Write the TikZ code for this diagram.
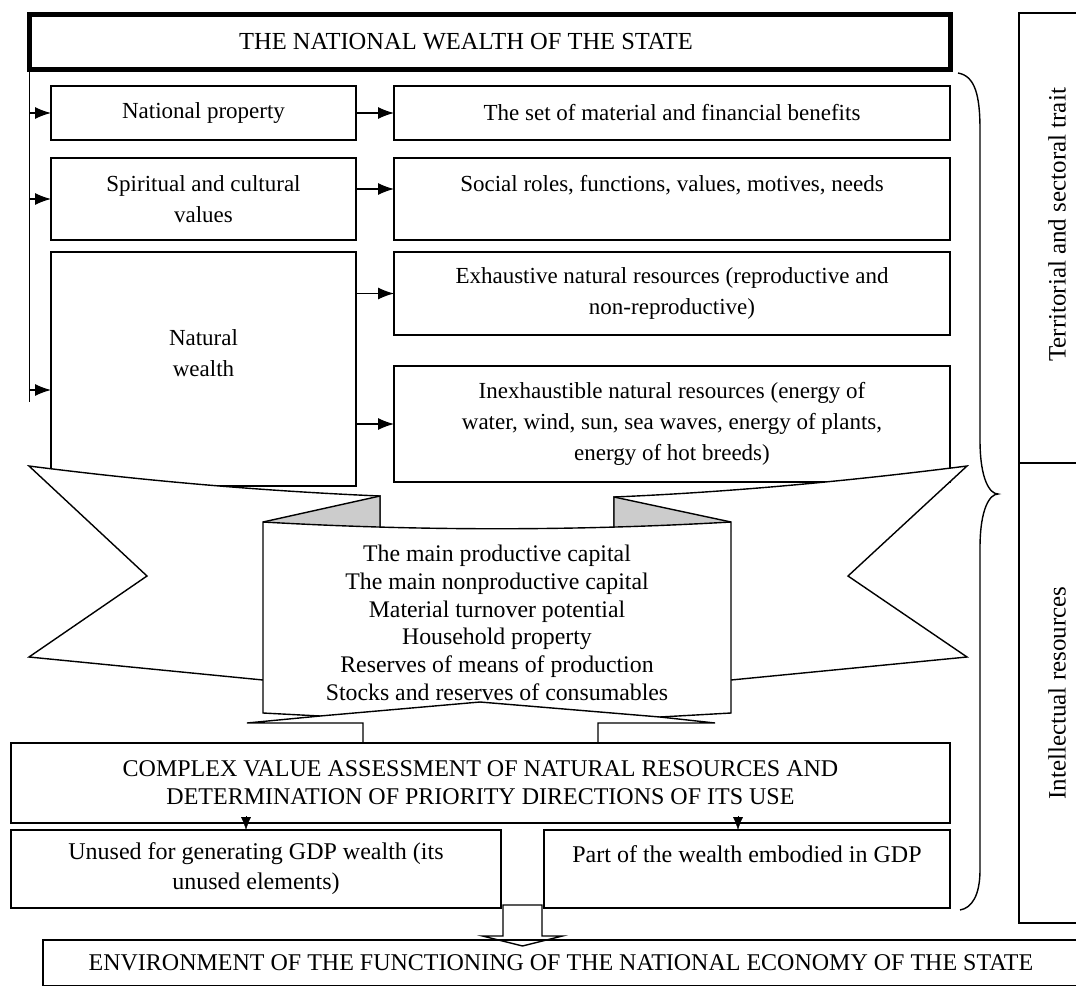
\documentclass[tikz,border=0pt]{standalone}
\usepackage{fontspec}
\setmainfont{Liberation Serif}
\usetikzlibrary{arrows.meta, calc, positioning}

\begin{document}
\begin{tikzpicture}[x=1pt, y=-1pt, >=Latex, font=\fontsize{23}{31}\selectfont]
	\tikzstyle{box} = [draw=black, rectangle, line width=1.4pt, align=center, inner sep=0pt, outer sep=0pt]
	\tikzstyle{lowbox} = [box, font=\fontsize{24}{30}\selectfont]
	\tikzstyle{titlebox} = [draw=black, rectangle, line width=5pt, inner sep=0pt, outer sep=0pt]
	\tikzstyle{sidebox} = [draw=black, rectangle, line width=1.4pt, inner sep=0pt, outer sep=0pt, rotate=90, font=\fontsize{25}{30}\selectfont]
	\tikzstyle{arrow} = [line width=1.2pt, -{Latex[length=16pt, width=12pt]}]
	\tikzstyle{downtip} = [-{Latex[length=13pt, width=10pt]}]
	\tikzstyle{ribbon} = [draw=black, fill=white, line width=1.4pt]
	\tikzstyle{fold} = [fill=black!20]

	\useasboundingbox (0,0) rectangle (1076,985);
	\clip (0,0) rectangle (1076,985);

	% upper part
	\node[titlebox, minimum width=921, minimum height=55, label={[xshift=-24pt, font=\fontsize{24.5}{29}\selectfont]center:THE NATIONAL WEALTH OF THE STATE}] at (490,42) (title) {};

	\node[box, minimum width=305, minimum height=54]	at (203.5,113)	(natprop)	{National property};
	\node[box, minimum width=556, minimum height=54]	at (672,113)	(benefit)	{The set of material and financial benefits};
	\node[box, minimum width=305, minimum height=82]	at (203.5,199)	(spirit)	{Spiritual and cultural\\values};
	\node[box, minimum width=556, minimum height=82]	at (672,199)	(social)	{Social roles, functions, values, motives, needs\\\mbox{}};
	\node[box, minimum width=305, minimum height=234]	at (203.5,369)	(natural)	{Natural\\wealth\\\mbox{}};
	\node[box, minimum width=556, minimum height=83]	at (672,293.5)	(exhaust)	{Exhaustive natural resources (reproductive and\\non-reproductive)};
	\node[box, minimum width=556, minimum height=116]	at (672,424)	(inexhaust)	{Inexhaustible natural resources (energy of\\water, wind, sun, sea waves, energy of plants,\\energy of hot breeds)};

	\coordinate (busend) at (29.5,402);
	\coordinate (natin) at ($(natural.west)+(0,21)$);
	\draw[line width=1.2pt] (title.south west) -- (busend);
	\draw[arrow] (busend |- natprop.west) -- (natprop.west);
	\draw[arrow] (busend |- spirit.west) -- (spirit.west);
	\draw[arrow] (busend |- natin) -- (natin);

	\draw[arrow] (natprop) -- (benefit);
	\draw[arrow] ($(spirit.east)+(0,-10)$) -- ($(social.west)+(0,-10)$);
	\draw[arrow] (natural.east |- exhaust.west) -- (exhaust.west);
	\draw[arrow] (natural.east |- inexhaust.west) -- (inexhaust.west);

	% ribbon
	\filldraw[ribbon] (29,466) .. controls (146,481) and (263,491) .. (380,496) -- (380,600) -- (263,680) -- (29,657) -- (147,576) -- cycle;
	\filldraw[ribbon] (967,466) .. controls (849,481) and (732,492) .. (614,497) -- (614,600) -- (731,680) -- (967,657) -- (848,576) -- cycle;
	\fill[fold] (380,496) -- (263,522) -- (263,532) -- (380,534) -- cycle;
	\fill[fold] (614,497) -- (731,522) -- (731,532) -- (614,534) -- cycle;
	\draw[ribbon, fill=none] (263,522) -- (380,496) -- (380,530);
	\draw[ribbon, fill=none] (731,522) -- (614,497) -- (614,530);
	\filldraw[ribbon] (263,522) .. controls (419,531) and (575,531) .. (731,522) -- (731,713) -- (660,717) -- (480,702) -- (320,716) -- (263,713) -- cycle;
	\draw[ribbon, fill=none] (320,716) -- (247,723) -- (363,723) -- (363,743);
	\draw[ribbon, fill=none] (660,717) -- (715,723) -- (598,723) -- (598,743);
	\node[align=center, font=\fontsize{23.8}{27.7}\selectfont] at (497,623) (capital) {The main productive capital\\The main nonproductive capital\\Material turnover potential\\Household property\\Reserves of means of production\\Stocks and reserves of consumables};

	% lower part
	\node[lowbox, minimum width=939, minimum height=80, font=\fontsize{24}{28}\selectfont]	at (480.5,783)	(assess)	{COMPLEX VALUE ASSESSMENT OF NATURAL RESOURCES AND\\DETERMINATION OF PRIORITY DIRECTIONS OF ITS USE};
	\node[lowbox, minimum width=490, minimum height=78]	at (256,869)	(unused)	{Unused for generating GDP wealth (its\\unused elements)};
	\node[lowbox, minimum width=406, minimum height=78]	at (747,869)	(gdp)		{Part of the wealth embodied in GDP\\\mbox{}};

	\draw[downtip] ($(unused.north)+(-10,-14)$) -- ($(unused.north)+(-10,0)$);
	\draw[downtip] ($(gdp.north)+(-9,-14)$) -- ($(gdp.north)+(-9,0)$);

	\coordinate (flow) at ($(unused.south east)!0.5!(gdp.south west)$);
	\draw[line width=1.4pt, fill=white, shift={(flow)}] (-19.5,-3) -- (19.5,-3) -- (19.5,28) -- (40,28) -- (0,38) -- (-40,28) -- (-19.5,28) -- cycle;

	\node[lowbox, minimum width=1036, minimum height=46]	at (561,963)	(environ)	{ENVIRONMENT OF THE FUNCTIONING OF THE NATIONAL ECONOMY OF THE STATE};

	% brace and side column
	\draw[line width=1.4pt] (958,73) .. controls (975,76) and (980,95) .. (980,130) -- (980,440) .. controls (980,480) and (990,494) .. (998,494) .. controls (990,494) and (980,508) .. (980,548) -- (980,870) .. controls (980,895) and (972,908) .. (960,910);

	\node[sidebox, minimum width=450, minimum height=76]	at (1057,238)	(territory)	{\hspace*{26pt}Territorial and sectoral trait};
	\node[sidebox, minimum width=460, minimum height=76]	at (1057,693)	(intellect)	{Intellectual resources};
\end{tikzpicture}
\end{document}
